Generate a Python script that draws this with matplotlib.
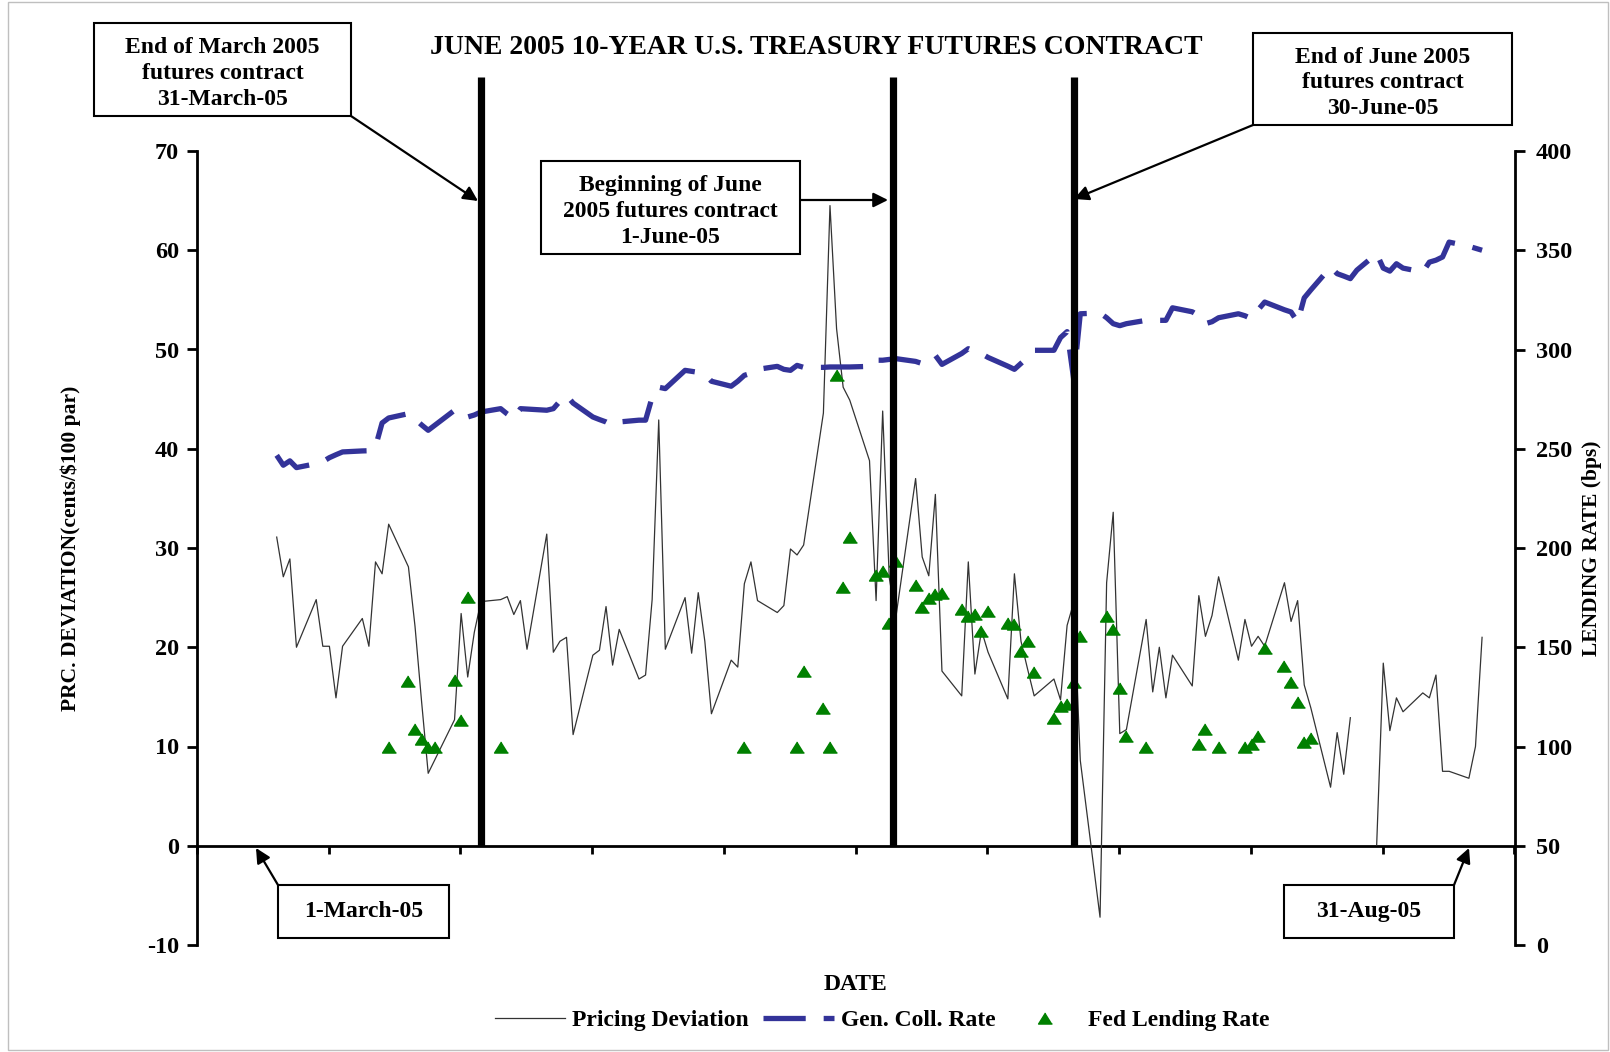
import numpy as np
import matplotlib
matplotlib.use('Agg')
import matplotlib.pyplot as plt
from matplotlib.lines import Line2D
from matplotlib.patches import Rectangle

plt.rcParams['axes.unicode_minus'] = False

# x values are calendar days counted from 1-March-2005
dev_days = [0, 1, 2, 3, 6, 7, 8, 9, 10, 13, 14, 15, 16, 17, 20, 21, 22, 23, 27, 28,
            29, 30, 31, 34, 35, 36, 37, 38, 41, 42, 43, 44, 45, 48, 49, 50, 51, 52, 55, 56,
            57, 58, 59, 62, 63, 64, 65, 66, 69, 70, 71, 72, 73, 76, 77, 78, 79, 80, 83, 84,
            85, 86, 87, 90, 91, 92, 93, 94, 97, 98, 99, 100, 101, 104, 105, 106, 107, 108, 111, 112,
            113, 114, 115, 118, 119, 120, 121, 122, 125, 126, 127, 128, 129, 132, 133, 134, 135, 136, 139, 140,
            141, 142, 143, 146, 147, 148, 149, 150, 153, 154, 155, 156, 157, 160, 161, 162, 163, 164, 167, 168,
            169, 170, 171, 174, 175, 176, 177, 178, 181, 182, 183]
dev_vals = [31.1, 27.1, 28.9, 20.0, 24.8, 20.1, 20.1, 14.9, 20.1, 22.9, 20.1, 28.6, 27.4, 32.4, 28.1, 22.1, 14.5, 7.3, 12.7, 23.4,
            17.0, 21.5, 24.6, 24.8, 25.1, 23.3, 24.7, 19.8, 31.4, 19.5, 20.6, 21.0, 11.2, 19.2, 19.7, 24.1, 18.2, 21.8, 16.8, 17.2,
            24.8, 42.9, 19.8, 25.0, 19.4, 25.5, 20.6, 13.3, 18.7, 18.0, 26.4, 28.6, 24.7, 23.5, 24.2, 29.9, 29.3, 30.3, 43.6, 64.5,
            52.1, 46.2, 44.9, 38.8, 24.7, 43.8, 27.0, 23.0, 37.0, 29.1, 27.2, 35.4, 17.6, 15.1, 28.6, 17.3, 21.7, 19.5, 14.8, 27.4,
            20.6, 17.8, 15.1, 16.8, 14.7, 22.2, 24.5, 8.6, -7.2, 26.5, 33.6, 11.3, 11.7, 22.8, 15.5, 20.0, 14.9, 19.2, 16.1, 25.2,
            21.1, 23.2, 27.1, 18.7, 22.8, 20.1, 21.1, 20.1, 26.5, 22.6, 24.7, 16.2, 13.9, 5.9, 11.4, 7.2, 12.9, None, 0.1, 18.4,
            11.6, 14.9, 13.5, 15.4, 14.9, 17.2, 7.5, 7.5, 6.8, 10.0, 21.0]

gc_days = [0, 1, 2, 3, 6, 7, 8, 9, 10, 13, 14, 15, 16, 17, 20, 21, 22, 23, 27, 28,
           29, 30, 31, 34, 35, 36, 37, 38, 41, 42, 43, 44, 45, 48, 49, 50, 51, 52, 55, 56,
           57, 58, 59, 62, 63, 64, 65, 66, 69, 70, 71, 72, 73, 76, 77, 78, 79, 80, 83, 84,
           85, 86, 87, 90, 91, 92, 93, 94, 97, 98, 99, 100, 101, 104, 105, 106, 107, 108, 111, 112,
           113, 114, 115, 118, 119, 120, 121, 122, 125, 126, 127, 128, 129, 132, 133, 134, 135, 136, 139, 140,
           141, 142, 143, 146, 147, 148, 149, 150, 153, 154, 155, 156, 157, 160, 161, 162, 163, 164, 167, 168,
           169, 170, 171, 174, 175, 176, 177, 178, 181, 182, 183]
gc_vals = [246.7, 241.7, 243.9, 240.5, 242.5, 243.5, 245.5, 247.0, 248.4, 248.9, 249.0, 251.0, 263.0, 265.5, 267.7, 265.0, 262.0, 259.3, 269.4, 266.4,
           266.0, 267.0, 268.5, 270.2, 267.5, 265.2, 270.2, 270.0, 269.4, 270.2, 274.0, 276.9, 273.0, 266.0, 264.7, 263.5, 261.8, 263.5, 264.4, 264.4,
           276.0, 281.0, 280.3, 289.5, 289.0, 288.5, 287.5, 284.0, 281.5, 284.0, 287.0, 288.0, 290.0, 291.5, 290.0, 289.5, 292.0, 291.0, 291.0, 291.2,
           291.2, 291.2, 291.2, 291.5, 294.6, 294.6, 295.0, 295.4, 294.0, 292.9, 295.5, 297.0, 292.5, 298.0, 300.4, 299.0, 297.9, 296.0, 291.6, 290.0,
           293.0, 296.0, 299.6, 299.6, 306.0, 309.0, 285.0, 318.0, 318.4, 316.0, 313.0, 312.0, 313.0, 314.7, 314.7, 314.7, 314.7, 321.0, 319.0, 317.0,
           313.0, 314.0, 316.0, 318.0, 317.0, 315.5, 320.0, 323.9, 320.0, 318.9, 313.8, 326.0, 330.0, 341.5, 338.2, 337.0, 335.7, 340.0, 348.3, 341.0,
           339.5, 343.2, 341.0, 339.0, 344.0, 345.0, 346.6, 354.1, 352.0, 351.0, 350.0]

fed_days = [17, 20, 21, 22, 23, 24, 27, 28, 29, 34, 71, 79, 80, 83, 84, 85, 86, 87, 91, 92,
            93, 94, 97, 98, 99, 100, 101, 104, 105, 106, 107, 108, 111, 112, 113, 114, 115, 118, 119, 120,
            121, 122, 126, 127, 128, 129, 132, 140, 141, 143, 147, 148, 149, 150, 153, 154, 155, 156, 157]
fed_vals = [100, 133, 108.6, 104, 100, 100, 133.4, 113.6, 175.4, 100, 100, 100, 138.2, 119.2, 100, 287.4, 180.4, 205.5, 186.5, 188.5,
            162.4, 193.3, 181.6, 170.5, 174.8, 176.6, 177.1, 169.4, 165.8, 166.5, 158.3, 168.1, 162.4, 161.5, 148.0, 153.2, 137.6, 114.2, 120.5, 121.4,
            132.7, 155.5, 165.7, 159.4, 129.6, 105.4, 100, 101.5, 108.6, 100, 100, 101.5, 105.2, 149.4, 140.5, 132.6, 122.5, 102.4, 104.4]

# contract dates marked by the heavy vertical bars
event_days = [31, 93.5, 121]

W, H = 1610, 1052
serif = 'Liberation Serif'


def fx(px):
    return px / W


def fy(py):
    return 1 - py / H


fig = plt.figure(figsize=(W / 100, H / 100), dpi=100)
ax = fig.add_axes([fx(197), fy(945), fx(1515) - fx(197), fy(151) - fy(945)])
ax2 = ax.twinx()

dev = np.array([np.nan if v is None else v for v in dev_vals], dtype=float)
ax.plot(dev_days, dev, color='#333333', lw=0.9, zorder=3)

ax.set_xlim(-12.1, 188.0)
ax.set_ylim(-10, 70)
ax.set_yticks(range(-10, 71, 10))
ax.set_xticks(np.arange(-12.1, 189, 20))
ax.set_xticklabels([])
ax.spines['top'].set_visible(False)
ax.spines['right'].set_visible(False)
ax.spines['bottom'].set_position(('data', 0))
for s in ['left', 'bottom']:
    ax.spines[s].set_linewidth(2)
ax.tick_params(axis='y', direction='out', length=7, width=2, labelsize=17.5, pad=6)
ax.tick_params(axis='x', direction='out', length=6, width=2)

gc_dash = (0, (8, 3.4))
ax2.plot(gc_days, gc_vals, color='#333399', lw=3.8, ls=gc_dash,
         dash_capstyle='butt', solid_capstyle='butt', zorder=3)
tri = [(0, 0.8), (-1, -0.8), (1, -0.8)]
ax2.plot(fed_days, fed_vals, ls='none', marker=tri, ms=10, color='#008000', zorder=4)
ax2.set_ylim(0, 400)
ax2.set_yticks(range(0, 401, 50))
for s in ['top', 'left', 'bottom']:
    ax2.spines[s].set_visible(False)
ax2.spines['right'].set_linewidth(2)
ax2.tick_params(axis='y', direction='out', length=7, width=2, labelsize=17.5, pad=8)

for a in (ax, ax2):
    for lab in a.get_yticklabels():
        lab.set_fontfamily(serif)
        lab.set_fontweight('bold')

# heavy vertical bars, running above the plot area
y0 = 10 / 80
for d in event_days:
    ax2.plot([d, d], [y0, 1.093], transform=ax2.get_xaxis_transform(), color='black',
             lw=5.2, solid_capstyle='butt', clip_on=False, zorder=6)

txt = dict(family=serif, weight='bold')
ax.set_ylabel('PRC. DEVIATION(cents/$100 par)', fontsize=15.5, **txt)
ax.yaxis.set_label_coords((81 - 197) / 1318, 0.5)
ax2.set_ylabel('LENDING RATE (bps)', fontsize=15.5, **txt)
ax2.yaxis.set_label_coords((1582 - 197) / 1318, 0.5)
fig.text(fx(855), fy(985), 'DATE', ha='center', va='center', fontsize=17, **txt)
fig.text(fx(816), fy(48), 'JUNE 2005 10-YEAR U.S. TREASURY FUTURES CONTRACT',
         ha='center', va='center', fontsize=20, **txt)

boxes = [
    ((94, 23, 351, 116), 'End of March 2005\nfutures contract\n31-March-05'),
    ((541, 161, 800, 254), 'Beginning of June\n2005 futures contract\n1-June-05'),
    ((1253, 33, 1512, 125), 'End of June 2005\nfutures contract\n30-June-05'),
    ((278, 885, 449, 938), '1-March-05'),
    ((1284, 885, 1454, 938), '31-Aug-05'),
]
for (x0, ya, x1, yb), label in boxes:
    fig.add_artist(Rectangle((fx(x0), fy(yb)), fx(x1) - fx(x0), fy(ya) - fy(yb),
                             transform=fig.transFigure, fill=True, facecolor='white',
                             edgecolor='black', lw=1.5, zorder=5))
    shift = 4 if '\n' in label else 0
    fig.text(fx((x0 + x1) / 2), fy((ya + yb) / 2 + shift), label, ha='center', va='center',
             fontsize=17, linespacing=1.3, zorder=6, **txt)

arrows = [((351, 116), (478, 201)), ((800, 200), (888, 200)), ((1253, 125), (1074, 199)),
          ((278, 885), (256, 848)), ((1454, 885), (1469, 848))]
for (sx, sy), (ex, ey) in arrows:
    ax.annotate('', xy=(fx(ex), fy(ey)), xytext=(fx(sx), fy(sy)),
                xycoords='figure fraction', textcoords='figure fraction',
                arrowprops=dict(arrowstyle='-|>', color='black', lw=1.6,
                                mutation_scale=22, shrinkA=0, shrinkB=0),
                annotation_clip=False)

handles = [Line2D([], [], color='#333333', lw=0.9),
           Line2D([], [], color='#333399', lw=3.8, ls=gc_dash, dash_capstyle='butt'),
           Line2D([], [], ls='none', marker=tri, ms=10, color='#008000')]
fig.legend(handles, ['Pricing Deviation', 'Gen. Coll. Rate', 'Fed Lending Rate'],
           loc='center', bbox_to_anchor=(fx(882), fy(1020)), ncol=3, frameon=False,
           handlelength=3.0, handletextpad=0.3, columnspacing=0.6,
           prop=dict(family=serif, weight='bold', size=17))

fig.add_artist(Rectangle((fx(8), 0.002), 1 - fx(8) - 0.001, 0.996, transform=fig.transFigure,
                         fill=False, edgecolor='#bfbfbf', lw=1))

fig.savefig('out.png', dpi=100)
